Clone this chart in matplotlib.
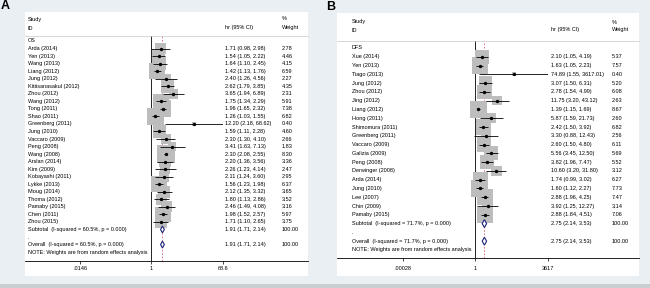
import matplotlib
matplotlib.use('Agg')
import matplotlib.pyplot as plt
from matplotlib.lines import Line2D
from matplotlib.patches import Rectangle
from matplotlib.ticker import NullLocator
from matplotlib.transforms import blended_transform_factory

W, H = 650, 288
plt.rcParams['font.family'] = ['Liberation Sans', 'DejaVu Sans']

# ---- panel A: overall survival ----
os_studies = ['Arda (2014)', 'Yen (2013)', 'Wang (2013)', 'Liang (2012)', 'Jung (2012)',
              'Kittisanasakul (2012)', 'Zhou (2012)', 'Wang (2012)', 'Tong (2011)',
              'Shao (2011)', 'Greenberg (2011)', 'Jung (2010)', 'Vaccaro (2009)',
              'Peng (2008)', 'Wang (2008)', 'Arslan (2014)', 'Kim (2009)',
              'Kobayashi (2011)', 'Lykke (2013)', 'Moug (2014)', 'Thoma (2012)',
              'Pamaby (2015)', 'Chen (2011)', 'Zhou (2015)']
os_hr = [1.71, 1.54, 1.64, 1.42, 2.40, 2.62, 3.65, 1.75, 1.96, 1.26, 12.20, 1.59,
         2.30, 3.41, 2.30, 2.20, 2.26, 2.11, 1.56, 2.12, 1.80, 2.46, 1.98, 1.71]
os_lo = [0.98, 1.05, 1.10, 1.13, 1.26, 1.79, 1.94, 1.34, 1.65, 1.03, 2.18, 1.11,
         1.30, 1.63, 2.08, 1.36, 1.23, 1.24, 1.23, 1.35, 1.13, 1.49, 1.52, 1.10]
os_hi = [2.98, 2.22, 2.45, 1.76, 4.56, 3.85, 6.89, 2.29, 2.32, 1.55, 68.62, 2.28,
         4.10, 7.13, 2.55, 3.56, 4.14, 3.60, 1.98, 3.32, 2.86, 4.08, 2.57, 2.65]
os_weight = [2.78, 4.46, 4.15, 6.59, 2.27, 4.35, 2.31, 5.91, 7.38, 6.82, 0.40, 4.60,
             2.66, 1.83, 8.30, 3.36, 2.47, 2.95, 6.37, 3.65, 3.52, 3.16, 5.97, 3.75]
os_pooled = [1.91, 1.71, 2.14]
os_i2 = '60.5%'
os_ticks = [0.0146, 1, 68.6]
os_ticklabels = ['.0146', '1', '68.6']

# ---- panel B: disease-free survival ----
dfs_studies = ['Xue (2014)', 'Yen (2013)', 'Tiago (2013)', 'Jung (2012)', 'Zhou (2012)',
               'Jing (2012)', 'Liang (2012)', 'Hong (2011)', 'Shimomura (2011)',
               'Greenberg (2011)', 'Vaccaro (2009)', 'Galizia (2009)', 'Peng (2008)',
               'Derwinger (2008)', 'Arda (2014)', 'Jung (2010)', 'Lee (2007)',
               'Chin (2009)', 'Pamaby (2015)']
dfs_hr = [2.10, 1.63, 74.89, 3.07, 2.78, 11.75, 1.39, 5.87, 2.42, 3.30, 2.60, 5.56,
          3.82, 10.60, 1.74, 1.60, 2.88, 3.92, 2.88]
dfs_lo = [1.05, 1.05, 1.55, 1.50, 1.54, 3.20, 1.15, 1.59, 1.50, 0.88, 1.50, 3.45,
          1.96, 3.20, 0.99, 1.12, 1.96, 1.25, 1.84]
dfs_hi = [4.19, 2.23, 3617.01, 6.31, 4.99, 43.12, 1.69, 21.73, 3.92, 12.43, 4.80,
          12.50, 7.47, 31.80, 3.02, 2.27, 4.25, 12.27, 4.51]
dfs_weight = [5.37, 7.57, 0.40, 5.20, 6.08, 2.63, 8.67, 2.60, 6.82, 2.56, 6.11, 5.69,
              5.52, 3.12, 6.27, 7.73, 7.47, 3.14, 7.06]
dfs_pooled = [2.75, 2.14, 3.53]
dfs_i2 = '71.7%'
dfs_ticks = [0.00028, 1, 3617]
dfs_ticklabels = ['.00028', '1', '3617']

FS = 4.0


def fx(px):
    return px / W


def fy(py):
    return 1 - py / H


def forest(fig, letter, group, studies, hr, lo, hi, wt, pooled, i2, ticks, ticklabels, L):
    x0, y0, x1, y1 = L['box']
    fig.add_artist(Rectangle((fx(x0), fy(y1)), fx(x1) - fx(x0), fy(y0) - fy(y1),
                             transform=fig.transFigure, facecolor='white',
                             edgecolor='none', zorder=0))
    fig.text(fx(L['letter'][0]), fy(L['letter'][1]), letter, fontsize=9,
             fontweight='bold', ha='center', va='center')

    # header
    fig.text(fx(L['c_study']), fy(L['h1']), 'Study', fontsize=FS, va='center')
    fig.text(fx(L['c_study']), fy(L['h2']), 'ID', fontsize=FS, va='center')
    fig.text(fx(L['c_hr']), fy(L['h2']), 'hr (95% CI)', fontsize=FS, va='center')
    fig.text(fx(L['c_wt']), fy(L['h1']), '%', fontsize=FS, va='center')
    fig.text(fx(L['c_wt']), fy(L['h2']), 'Weight', fontsize=FS, va='center')
    fig.add_artist(Line2D([fx(x0), fx(x1)], [fy(L['sep']), fy(L['sep'])],
                          transform=fig.transFigure, color='#c8c8c8', lw=0.5))
    fig.add_artist(Line2D([fx(x0), fx(x1)], [fy(L['axis']), fy(L['axis'])],
                          transform=fig.transFigure, color='black', lw=0.6))

    ax_l, ax_r = L['ax_x']
    ax = fig.add_axes([fx(ax_l), fy(L['axis']), fx(ax_r) - fx(ax_l),
                       fy(L['sep']) - fy(L['axis'])])
    ax.patch.set_alpha(0)
    r0, step = L['row0'], L['step']
    ax.set_ylim((L['axis'] - r0) / step, (L['sep'] - r0) / step)
    ax.set_xscale('log')
    ax.set_xlim(ticks[0], ticks[-1])
    ax.set_xticks(ticks)
    ax.set_xticklabels(ticklabels)
    ax.xaxis.set_minor_locator(NullLocator())
    ax.tick_params(axis='x', length=2, width=0.5, labelsize=FS, pad=L['pad'])
    ax.set_yticks([])
    for s in ax.spines.values():
        s.set_visible(False)

    n = len(studies)
    rows = list(range(1, n + 1))
    ax.axvline(1, color='black', lw=0.6, zorder=1)
    ax.axvline(pooled[0], color='#e06070', lw=0.6, ls=(0, (2, 2)), zorder=1)
    ax.scatter(hr, rows, s=[L['k'] * w for w in wt], marker='s', color='#bdbdbd',
               edgecolor='none', zorder=2)
    ax.hlines(rows, lo, hi, color='black', lw=0.6, zorder=3)
    ax.plot(hr, rows, 'o', ms=1.4, color='black', zorder=4)
    for r in (n + 1, n + 3):
        ax.fill([pooled[1], pooled[0], pooled[2], pooled[0]],
                [r, r - 0.45, r, r + 0.45], facecolor='white',
                edgecolor='#1c237a', lw=0.8, zorder=5)

    tr = blended_transform_factory(fig.transFigure, ax.transData)
    cs, ch, cw = fx(L['c_study']), fx(L['c_hr']), fx(L['c_wt'])
    kw = dict(fontsize=FS, va='center', transform=tr)
    ax.text(cs, 0, group, **kw)
    for r, name, h, a, b, w in zip(rows, studies, hr, lo, hi, wt):
        ax.text(cs, r, name, **kw)
        ax.text(ch, r, f'{h:.2f} ({a:.2f}, {b:.2f})', **kw)
        ax.text(cw, r, f'{w:.2f}', **kw)
    ci = f'{pooled[0]:.2f} ({pooled[1]:.2f}, {pooled[2]:.2f})'
    ax.text(cs, n + 1, f'Subtotal  (I-squared = {i2}, p = 0.000)', **kw)
    ax.text(cs, n + 2, '.', **kw)
    ax.text(cs, n + 3, f'Overall  (I-squared = {i2}, p = 0.000)', **kw)
    ax.text(cs, n + 4, 'NOTE: Weights are from random effects analysis', **kw)
    for r in (n + 1, n + 3):
        ax.text(ch, r, ci, **kw)
        ax.text(cw, r, '100.00', **kw)
    return ax


fig = plt.figure(figsize=(W / 100, H / 100), dpi=100)
fig.patch.set_facecolor('#e9eff2')
fig.add_artist(Rectangle((0, 0), 1, fy(284), transform=fig.transFigure,
                         facecolor='#c9ced1', edgecolor='none', zorder=0))

layout_a = dict(box=(25, 12, 308, 276), letter=(5, 6), sep=36, axis=261,
                ax_x=(80, 223), row0=41, step=7.54, c_study=28, c_hr=225, c_wt=282,
                h1=19, h2=28, pad=1.5, k=20)
layout_b = dict(box=(337, 13, 639, 276), letter=(331, 7), sep=41, axis=258,
                ax_x=(403, 548), row0=48, step=8.78, c_study=352, c_hr=551, c_wt=612,
                h1=22, h2=30, pad=4, k=18)

forest(fig, 'A', 'OS', os_studies, os_hr, os_lo, os_hi, os_weight, os_pooled, os_i2,
       os_ticks, os_ticklabels, layout_a)
forest(fig, 'B', 'DFS', dfs_studies, dfs_hr, dfs_lo, dfs_hi, dfs_weight, dfs_pooled,
       dfs_i2, dfs_ticks, dfs_ticklabels, layout_b)

fig.savefig('out.png', dpi=100, facecolor=fig.get_facecolor())
